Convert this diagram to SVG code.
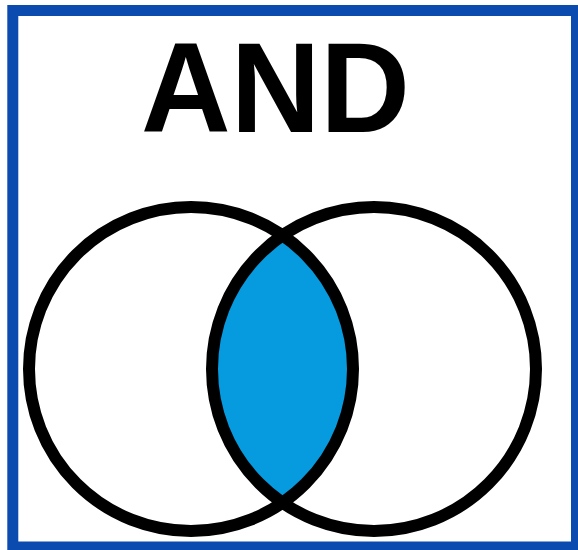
<svg xmlns="http://www.w3.org/2000/svg" width="578" height="550" viewBox="0 0 578 550">
  <style>
    .ring { fill: none; stroke: #000; stroke-width: 12; }
    .title { font-family: "Liberation Sans", Arial, sans-serif; font-weight: bold; font-size: 128px; fill: #000; }
  </style>
  <defs>
    <clipPath id="clipA">
      <circle cx="191" cy="369" r="162"/>
    </clipPath>
  </defs>
  <rect x="0" y="0" width="578" height="550" fill="#fff"/>
  <rect id="frame" x="12.8" y="10.5" width="563.7" height="536.5" fill="none" stroke="#0B4AAE" stroke-width="11"/>
  <g id="title">
    <text class="title" transform="translate(141,132) scale(0.97,1)" x="0" y="0">AND</text>
  </g>
  <g id="intersection">
    <circle cx="374" cy="369" r="162" fill="#069ADF" clip-path="url(#clipA)"/>
  </g>
  <g id="setA">
    <circle class="ring" cx="191" cy="369" r="162"/>
  </g>
  <g id="setB">
    <circle class="ring" cx="374" cy="369" r="162"/>
  </g>
  <g id="connectors"/>
</svg>
